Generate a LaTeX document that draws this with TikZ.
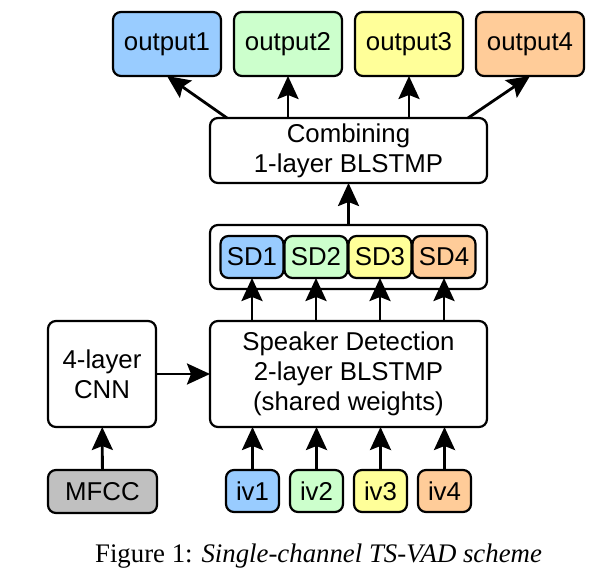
\documentclass[tikz,border=0pt]{standalone}
\usepackage{fontspec}
\setmainfont{Liberation Sans}
\newfontfamily\capfont{Liberation Serif}
\usetikzlibrary{positioning,arrows.meta}
\definecolor{cblue}{HTML}{99CCFF}
\definecolor{cgreen}{HTML}{CCFFCC}
\definecolor{cyellow}{HTML}{FFFF99}
\definecolor{corange}{HTML}{FFCC99}
\definecolor{cgray}{HTML}{C0C0C0}
\begin{document}
\begin{tikzpicture}[x=0.5pt, y=-0.5pt, node distance=6.5pt,
    main/.style = {draw, rounded corners=4pt, line width=1.1pt, outer sep=0pt, inner sep=0pt, align=center, font=\fontsize{12.9}{15}\selectfont},
    outbox/.style = {main, minimum width=54pt, minimum height=32pt},
    sdbox/.style = {main, minimum width=31.5pt, minimum height=21pt},
    ivbox/.style = {main, minimum width=26.5pt, minimum height=21pt},
    arr/.style = {-{Stealth[length=11.5pt,width=10.5pt,inset=2pt]}, line width=1.4pt}]
    \useasboundingbox (0,0) rectangle (593,576);
    % speaker detection and cnn
    \node[main, minimum width=138.5pt, minimum height=53pt] (spk) at (348.5,374) {Speaker Detection\\2-layer BLSTMP\\(shared weights)};
    \node[main, minimum width=54pt, minimum height=53pt] (cnn) at (102,374) {4-layer\\CNN};
    \node[main, fill=cgray, minimum width=54.5pt, minimum height=21.5pt] (mfcc) at (102.5,491.5) {MFCC};
    % i-vectors
    \node[ivbox, fill=cblue] (iv1) at (252.5,491) {iv1};
    \node[ivbox, fill=cgreen, right=5.5pt of iv1] (iv2) {iv2};
    \node[ivbox, fill=cyellow, right=5.5pt of iv2] (iv3) {iv3};
    \node[ivbox, fill=corange, right=5.5pt of iv3] (iv4) {iv4};
    % per-speaker outputs
    \node[main, minimum width=138.5pt, minimum height=32pt, above=16pt of spk] (sdall) {};
    \node[sdbox, fill=cblue] (sd1) at (252,257) {SD1};
    \node[sdbox, fill=cgreen, right=0.5pt of sd1] (sd2) {SD2};
    \node[sdbox, fill=cyellow, right=0.5pt of sd2] (sd3) {SD3};
    \node[sdbox, fill=corange, right=0.5pt of sd3] (sd4) {SD4};
    % combining
    \node[main, minimum width=138.5pt, minimum height=32.5pt, above=21pt of sdall] (comb) {Combining\\1-layer BLSTMP};
    \node[outbox, fill=cblue] (out1) at (167,44) {output1};
    \node[outbox, fill=cgreen, right=6.5pt of out1] (out2) {output2};
    \node[outbox, fill=cyellow, right=6.5pt of out2] (out3) {output3};
    \node[outbox, fill=corange, right=6.5pt of out3] (out4) {output4};
    % arrows
    \draw[arr] (mfcc) -- (cnn);
    \draw[arr] (cnn) -- (spk);
    \draw[arr] (iv1) -- (iv1 |- spk.south);
    \draw[arr] (iv2) -- (iv2 |- spk.south);
    \draw[arr] (iv3) -- (iv3 |- spk.south);
    \draw[arr] (iv4) -- (iv4 |- spk.south);
    \draw[arr] (spk.north -| sd1) -- (sd1);
    \draw[arr] (spk.north -| sd2) -- (sd2);
    \draw[arr] (spk.north -| sd3) -- (sd3);
    \draw[arr] (spk.north -| sd4) -- (sd4);
    \draw[arr] (sdall) -- (comb);
    \draw[arr] ([xshift=8.5pt]comb.north west) -- (out1.south);
    \draw[arr] (comb.north -| out2) -- (out2);
    \draw[arr] (comb.north -| out3) -- (out3);
    \draw[arr] ([xshift=-9.5pt]comb.north east) -- (out4.south);
    % caption
    \node[anchor=base, font=\capfont\fontsize{13.4}{16}\selectfont] (cap) at (318.5,562) {Figure 1: \textit{Single-channel TS-VAD scheme}};
\end{tikzpicture}
\end{document}
